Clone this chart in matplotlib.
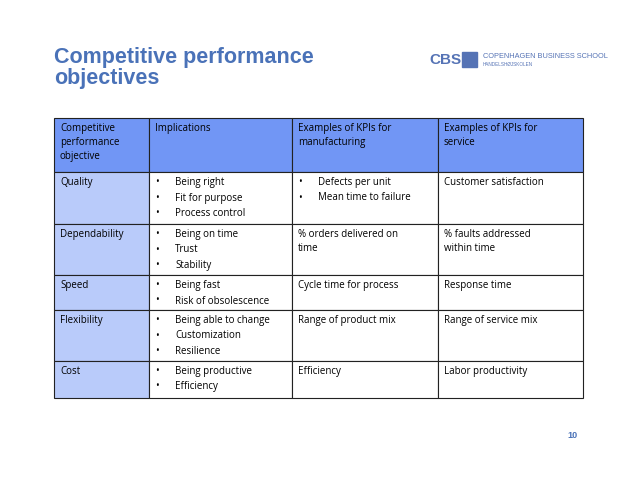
import matplotlib
matplotlib.use("Agg")
import matplotlib.pyplot as plt
from matplotlib.patches import Rectangle

headers = ["Competitive\nperformance\nobjective", "Implications",
           "Examples of KPIs for\nmanufacturing", "Examples of KPIs for\nservice"]
objectives = ["Quality", "Dependability", "Speed", "Flexibility", "Cost"]
implications = [["Being right", "Fit for purpose", "Process control"],
                ["Being on time", "Trust", "Stability"],
                ["Being fast", "Risk of obsolescence"],
                ["Being able to change", "Customization", "Resilience"],
                ["Being productive", "Efficiency"]]
kpi_manufacturing = [["Defects per unit", "Mean time to failure"],
                     "% orders delivered on\ntime", "Cycle time for process",
                     "Range of product mix", "Efficiency"]
kpi_service = ["Customer satisfaction", "% faults addressed\nwithin time",
               "Response time", "Range of service mix", "Labor productivity"]

col_x = [54, 149, 292, 438, 583]
row_y = [118, 172, 224, 275, 310, 361, 398]

fig = plt.figure(figsize=(6.38, 4.93), dpi=100)
ax = fig.add_axes([0, 0, 1, 1])
ax.set_xlim(0, 638); ax.set_ylim(493, 0); ax.axis("off")

FONT = "Open Sans"
fs = 7.0
head_col = "#7196f5"
first_col = "#b9cbfa"

ax.text(54, 89, "Competitive performance\nobjectives", fontsize=15.5, fontweight="bold",
        color="#4a72b8", family="Liberation Sans", va="bottom", linespacing=1.0)
ax.text(429, 60, "CBS", fontsize=11, fontweight="bold", color="#5573b5",
        family="Liberation Sans", va="center")
ax.add_patch(Rectangle((462, 52), 15, 15, color="#5573b5"))
ax.text(483, 56, "COPENHAGEN BUSINESS SCHOOL", fontsize=5.3, color="#5573b5",
        family="Liberation Sans", va="center")
ax.text(483, 65, "HANDELSHØJSKOLEN", fontsize=3.3, color="#5573b5",
        family="Liberation Sans", va="center")
ax.text(578, 435, "10", fontsize=6.5, fontweight="bold", color="#4a72b8",
        family="Liberation Sans", ha="right", va="center")

def cell_text(c, r, content):
    x = col_x[c] + 6
    y = row_y[r] + 5
    if isinstance(content, list):
        for i, item in enumerate(content):
            ax.text(x, y + i * 15.5, "•", fontsize=fs, family=FONT, va="top")
            ax.text(x + 20, y + i * 15.5, item, fontsize=fs, family=FONT, va="top")
    else:
        ax.text(x, y, content, fontsize=fs, family=FONT, va="top", linespacing=1.35)

for r in range(len(row_y) - 1):
    for c in range(4):
        if r == 0:
            fc = head_col
        elif c == 0:
            fc = first_col
        else:
            fc = "white"
        ax.add_patch(Rectangle((col_x[c], row_y[r]), col_x[c+1]-col_x[c],
                               row_y[r+1]-row_y[r], facecolor=fc, edgecolor="#222222", lw=0.8))

for c, h in enumerate(headers):
    cell_text(c, 0, h)
for i in range(len(objectives)):
    cell_text(0, i + 1, objectives[i])
    cell_text(1, i + 1, implications[i])
    cell_text(2, i + 1, kpi_manufacturing[i])
    cell_text(3, i + 1, kpi_service[i])

fig.savefig("out.png", dpi=100)
